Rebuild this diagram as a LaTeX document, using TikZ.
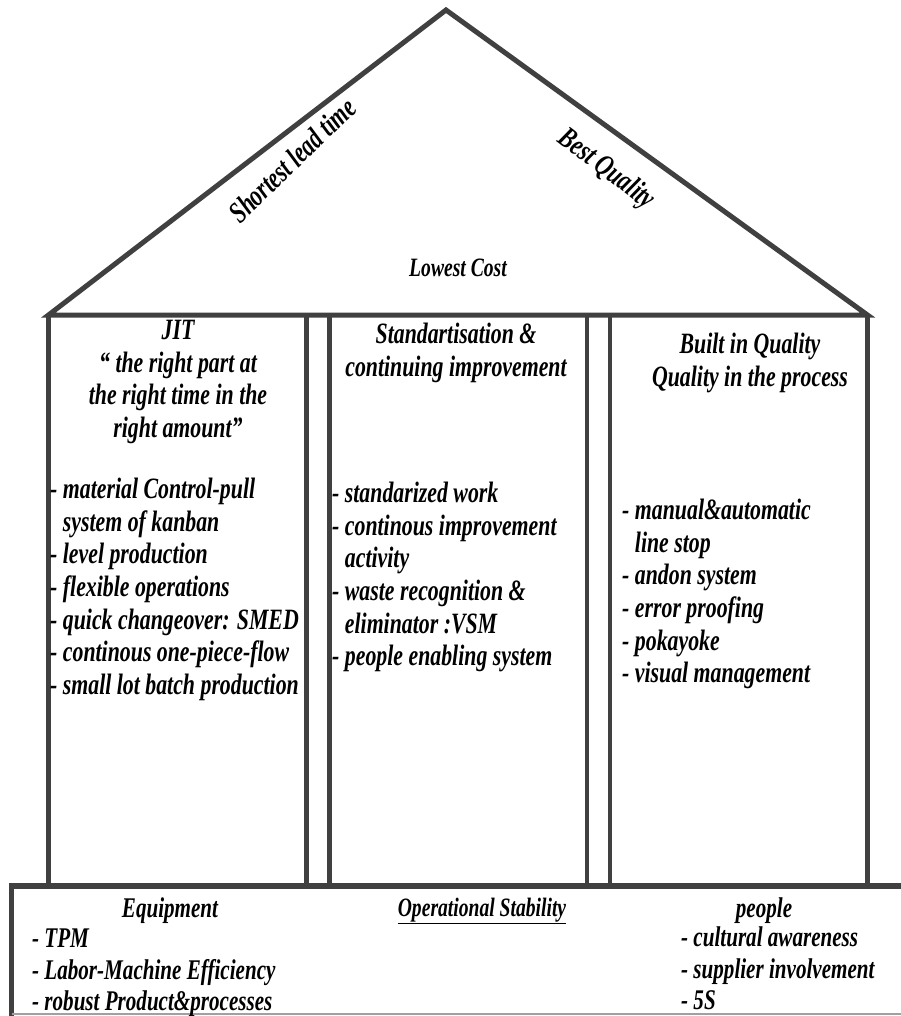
\documentclass[tikz,border=0pt]{standalone}
\usepackage{fontspec}
\setmainfont{Liberation Serif}[FakeStretch=0.74]
\definecolor{linegray}{HTML}{404040}
\definecolor{edgegray}{HTML}{A0A0A0}
\begin{document}
\begin{tikzpicture}[x=1pt,y=-1pt,
  roofline/.style={draw=linegray,line width=5pt,line join=miter},
  pillar/.style={draw=linegray,line width=4.5pt},
  baseline/.style={draw=linegray,line width=6pt},
  edge/.style={draw=edgegray,line width=1.5pt},
  ptxt/.style={font=\bfseries\itshape\fontsize{29.5}{32.6}\selectfont,inner sep=0pt},
  btxt/.style={font=\bfseries\itshape\fontsize{28.5}{31.5}\selectfont,inner sep=0pt},
  rtxt/.style={font=\bfseries\itshape\fontsize{30}{32}\selectfont,inner sep=0pt}]
\useasboundingbox (0,0) rectangle (901,1016);
% roof
\coordinate (apex) at (446,10);
\coordinate (rl) at (48.5,315);
\coordinate (rr) at (867.5,315);
\draw[roofline] (rl) -- (apex) -- (rr) -- cycle;
% pillars
\coordinate (p1a) at (48.5,315);  \coordinate (p1b) at (306.5,886);
\coordinate (p2a) at (329.5,315); \coordinate (p2b) at (587,886);
\coordinate (p3a) at (610,315);   \coordinate (p3b) at (867.5,886);
\draw[pillar] (p1a) -- (p1a |- p1b);
\draw[pillar] (p1b |- p1a) -- (p1b);
\draw[pillar] (p2a) -- (p2a |- p2b);
\draw[pillar] (p2b |- p2a) -- (p2b);
\draw[pillar] (p3a) -- (p3a |- p3b);
\draw[pillar] (p3b |- p3a) -- (p3b);
% base
\coordinate (bl) at (9,886);
\coordinate (br) at (901,886);
\coordinate (bll) at (11.5,1016);
\coordinate (blr) at (901,1014);
\draw[baseline] (bl) -- (br);
\draw[pillar] (11.5,886) -- (bll);
\draw[edge] (11.5,1014) -- (blr);
% roof texts
\node[rtxt,rotate=44] (slt) at (292,160) {Shortest lead time};
\node[rtxt,rotate=-37] (bq) at (606,170) {Best Quality};
\node[rtxt,font=\bfseries\itshape\fontsize{26.5}{30}\selectfont] (lc) at (458,268) {Lowest Cost};
% pillar headers
\node[ptxt,align=center,anchor=north] (jit) at (178,320) {JIT\\“ the right part at\\the right time in the\\right amount”};
\node[ptxt,align=center,anchor=north] (std) at (456,323) {Standartisation \&\\continuing improvement};
\node[ptxt,align=center,anchor=north] (biq) at (750,333) {Built in Quality\\Quality in the process};
% pillar lists
\node[ptxt,align=left,anchor=north west] (jitl) at (50,478) {- material Control-pull\\\hphantom{- }system of kanban\\- level production\\- flexible operations\\- quick changeover: SMED\\- continous one-piece-flow\\- small lot batch production};
\node[ptxt,align=left,anchor=north west] (stdl) at (332,482) {- standarized work\\- continous improvement\\\hphantom{- }activity\\- waste recognition \&\\\hphantom{- }eliminator :VSM\\- people enabling system};
\node[ptxt,align=left,anchor=north west] (biql) at (622,499) {- manual\&automatic\\\hphantom{- }line stop\\- andon system\\- error proofing\\- pokayoke\\- visual management};
% base texts
\node[btxt] (eq) at (170,911) {Equipment};
\node[btxt,font=\bfseries\itshape\fontsize{26.5}{31.5}\selectfont] (os) at (482,911) {\underline{Operational Stability}};
\node[btxt] (pp) at (764,911) {people};
\node[btxt,align=left,anchor=north west] (eql) at (32,929) {- TPM\\- Labor-Machine Efficiency\\- robust Product\&processes};
\node[btxt,align=left,anchor=north west] (ppl) at (681,927) {- cultural awareness\\- supplier involvement\\- 5S};
\end{tikzpicture}
\end{document}
